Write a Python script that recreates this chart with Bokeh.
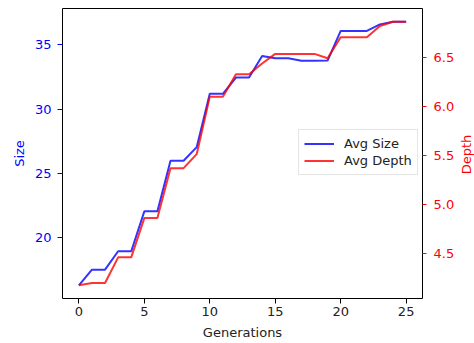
import math
from bokeh.plotting import figure
from bokeh.models import LinearAxis, Range1d, FixedTicker, PrintfTickFormatter, Label
from bokeh.embed import file_html
from bokeh.resources import INLINE

generations = list(range(26))
avg_size = [16.28, 17.50, 17.50, 18.93, 18.93, 22.04, 22.04, 25.98, 25.98, 27.04,
            31.19, 31.19, 32.46, 32.46, 34.14, 33.96, 33.96, 33.76, 33.76, 33.78,
            36.09, 36.09, 36.09, 36.60, 36.81, 36.81]
avg_depth = [4.173, 4.197, 4.197, 4.459, 4.459, 4.86, 4.86, 5.37, 5.37, 5.513,
             6.10, 6.10, 6.33, 6.33, 6.44, 6.538, 6.538, 6.538, 6.538, 6.493,
             6.707, 6.707, 6.707, 6.823, 6.867, 6.867]
x_ticks = [0, 5, 10, 15, 20, 25]
size_ticks = [20, 25, 30, 35]
depth_ticks = [4.5, 5.0, 5.5, 6.0, 6.5]


def padded(vals, frac=0.05):
    lo, hi = min(vals), max(vals)
    m = (hi - lo) * frac
    return lo - m, hi + m


FONT = "DejaVu Sans"
FS = "13px"

xlo, xhi = padded(generations)
slo, shi = padded(avg_size)
dlo, dhi = padded(avg_depth)

p = figure(width=474, height=343, output_backend="svg", toolbar_location=None,
           x_range=Range1d(xlo, xhi), y_range=Range1d(slo, shi),
           min_border_left=62, min_border_right=52, min_border_top=8,
           min_border_bottom=45)
p.extra_y_ranges = {"depth": Range1d(dlo, dhi)}

p.grid.visible = False
p.outline_line_color = "black"
p.outline_line_width = 1
p.outline_line_alpha = 1.0
p.background_fill_color = "white"
p.border_fill_color = "white"

p.line(generations, avg_size, color="blue", alpha=0.8, line_width=2, legend_label="Avg Size")
p.line(generations, avg_depth, color="red", alpha=0.8, line_width=2, legend_label="Avg Depth",
       y_range_name="depth")

# bottom axis
xa = p.xaxis[0]
xa.ticker = FixedTicker(ticks=x_ticks)
xa.axis_label = "Generations"
xa.axis_line_color = None
xa.minor_tick_line_color = None
xa.major_tick_in = 0
xa.major_tick_out = 5
xa.major_tick_line_color = "black"
xa.major_label_standoff = 3
xa.axis_label_standoff = 6
xa.major_label_text_font = FONT
xa.major_label_text_font_size = FS
xa.major_label_text_color = "#222222"
xa.axis_label_text_font = FONT
xa.axis_label_text_font_size = FS
xa.axis_label_text_font_style = "normal"
xa.axis_label_text_color = "#222222"

# left axis
ya = p.yaxis[0]
ya.ticker = FixedTicker(ticks=size_ticks)
ya.axis_label = "Size"
ya.axis_line_color = None
ya.minor_tick_line_color = None
ya.major_tick_in = 0
ya.major_tick_out = 5
ya.major_tick_line_color = "blue"
ya.major_label_standoff = 6
ya.axis_label_standoff = 5
ya.major_label_text_font = FONT
ya.major_label_text_font_size = FS
ya.major_label_text_color = "blue"
ya.axis_label_text_font = FONT
ya.axis_label_text_font_size = FS
ya.axis_label_text_font_style = "normal"
ya.axis_label_text_color = "blue"

# right axis (ticks + labels); its title is a rotated label in the right panel
ra = LinearAxis(y_range_name="depth",
                ticker=FixedTicker(ticks=depth_ticks),
                formatter=PrintfTickFormatter(format="%.1f"))
ra.axis_line_color = None
ra.minor_tick_line_color = None
ra.major_tick_in = 0
ra.major_tick_out = 4
ra.major_tick_line_color = "red"
ra.major_label_standoff = 7
ra.major_label_text_font = FONT
ra.major_label_text_font_size = FS
ra.major_label_text_color = "red"
p.add_layout(ra, "right")

depth_title = Label(x=9, y=144, x_units="screen", y_units="screen", text="Depth",
                    angle=90, angle_units="deg", text_align="center",
                    text_baseline="middle", text_font=FONT, text_font_size=FS,
                    text_color="red")
p.add_layout(depth_title, "right")

lg = p.legend[0]
lg.location = (236, 123)
lg.label_text_font = FONT
lg.label_text_font_size = FS
lg.label_text_color = "#222222"
lg.glyph_width = 30
lg.glyph_height = 17
lg.label_height = 17
lg.label_standoff = 10
lg.padding = 5
lg.spacing = 0
lg.margin = 0
lg.border_line_color = "#cccccc"
lg.border_line_width = 1
lg.background_fill_alpha = 0.8

open("out.html", "w").write(file_html(p, INLINE))
